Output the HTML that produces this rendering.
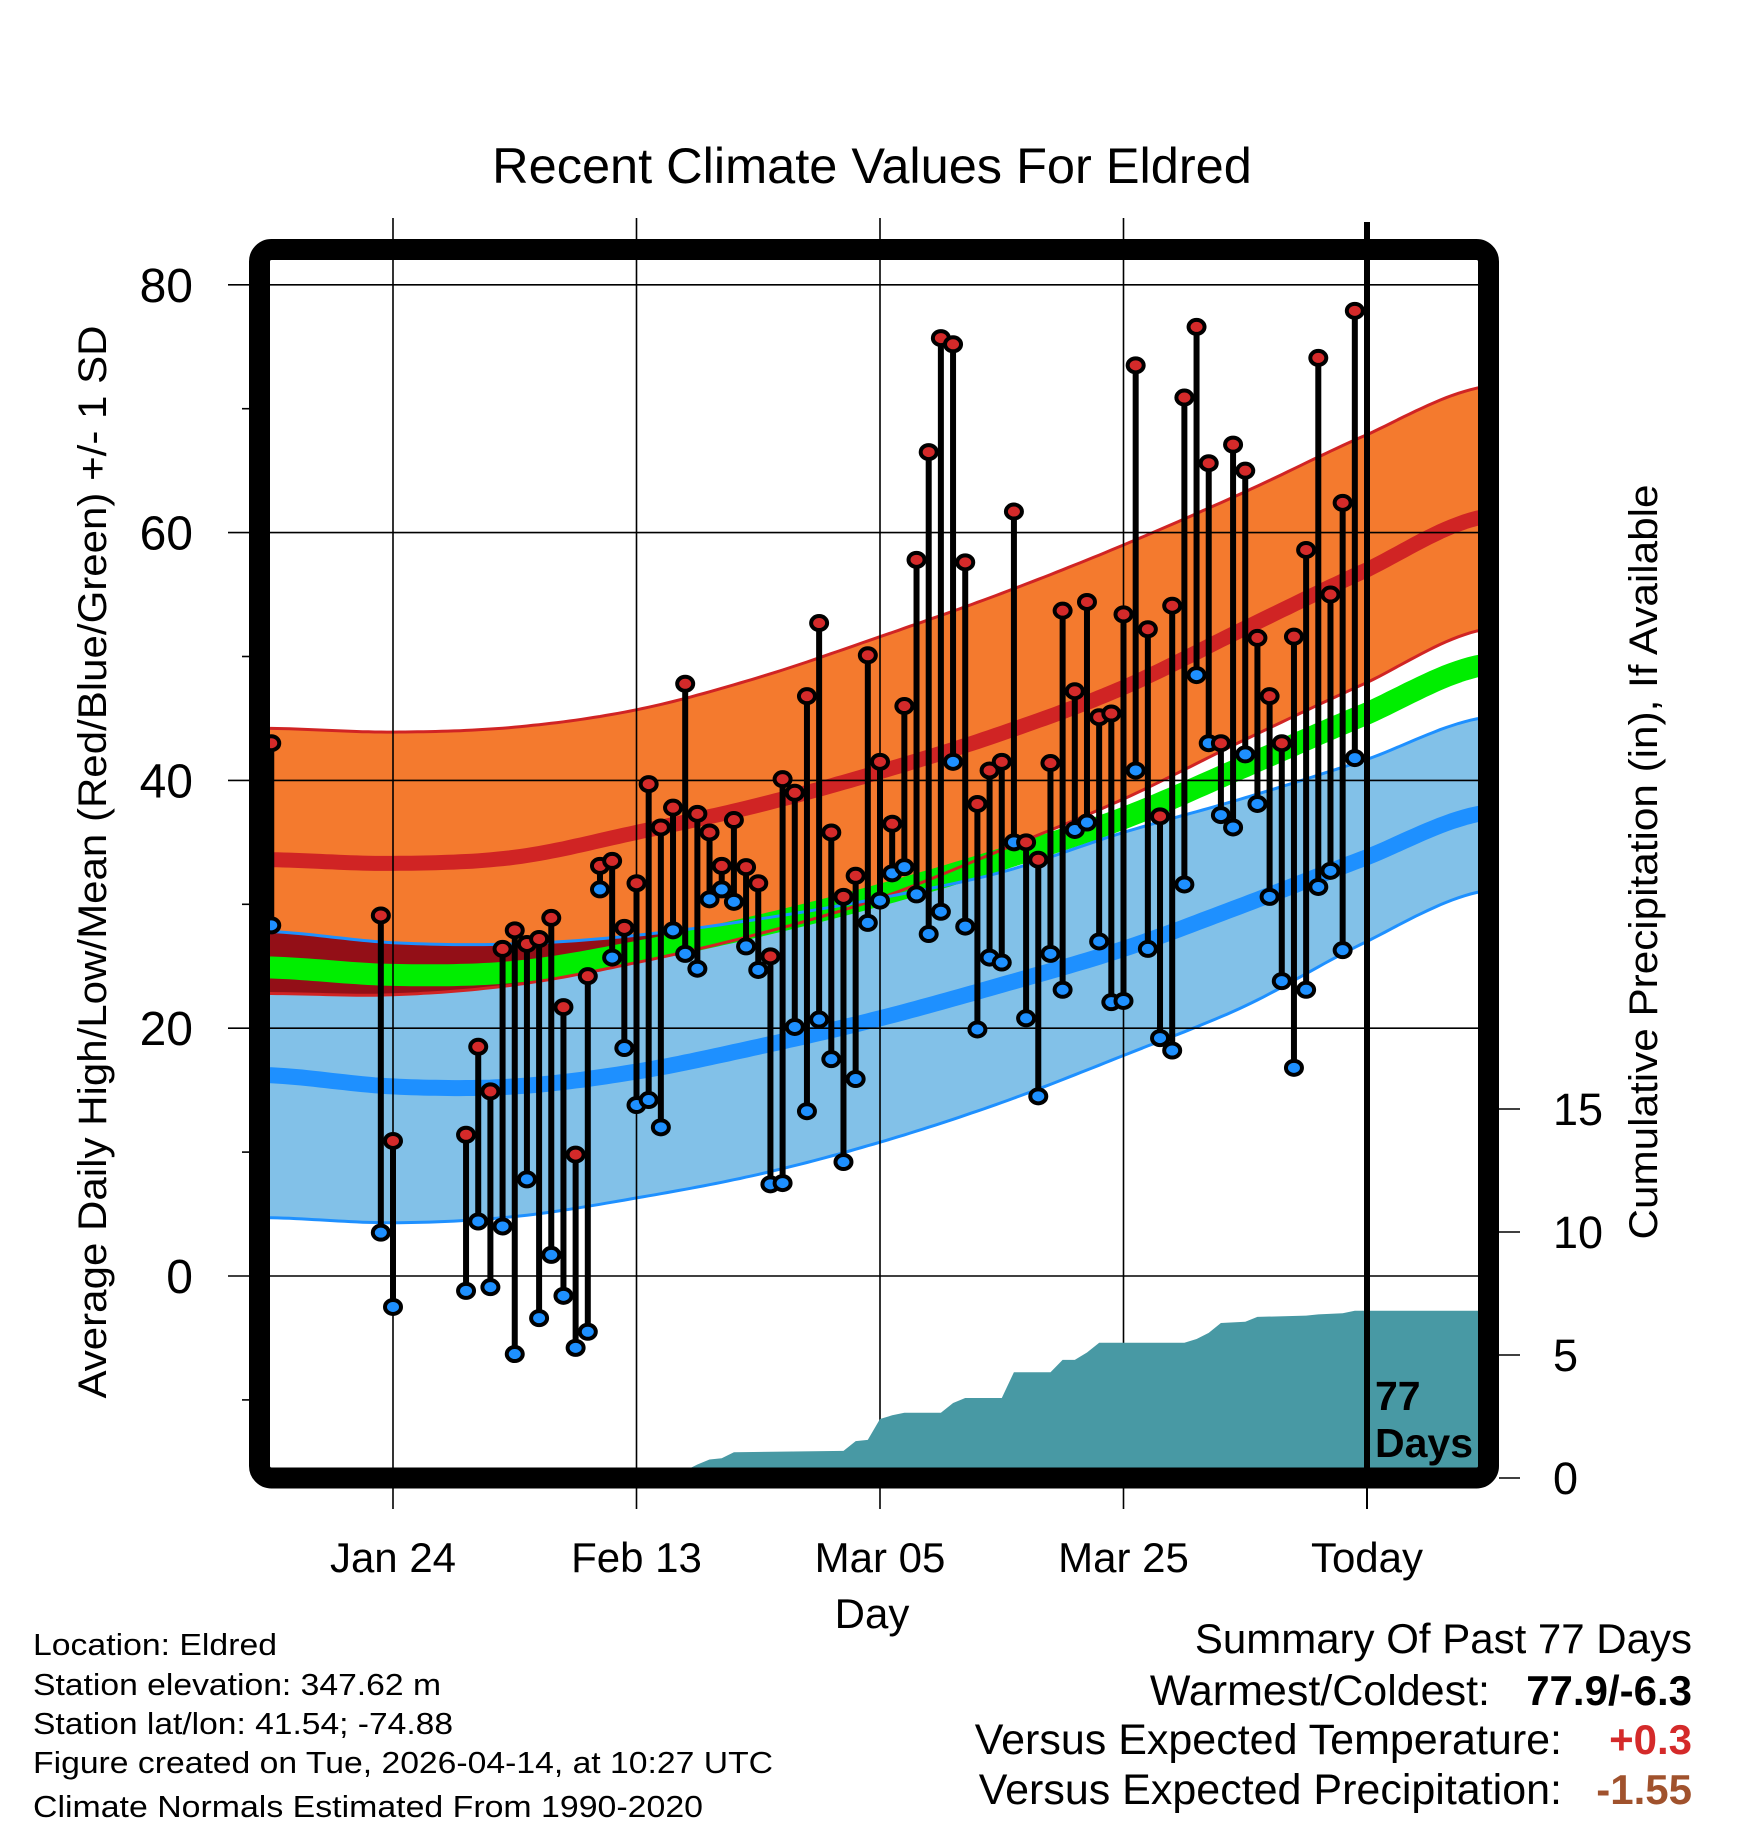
<!DOCTYPE html>
<html><head><meta charset="utf-8"><style>
html,body{margin:0;padding:0;background:#fff;}
svg{display:block;font-family:"Liberation Sans",Arial,sans-serif;}
</style></head><body>
<svg id="chart" xmlns="http://www.w3.org/2000/svg" width="1748" height="1828" viewBox="0 0 1748 1828">
<rect width="1748" height="1828" fill="#fff"/>
<defs><clipPath id="plotclip"><rect x="270" y="260" width="1208" height="1208"/></clipPath></defs>
<text x="872" y="183" font-size="50.5" text-anchor="middle">Recent Climate Values For Eldred</text>
<g id="bands" clip-path="url(#plotclip)"></g>
<g id="grid"></g>
<g id="precip" clip-path="url(#plotclip)"></g>
<g id="stalks"></g>
<g id="axes"></g>
<rect x="259.5" y="249.5" width="1229" height="1228.5" rx="12" fill="none" stroke="#000" stroke-width="21"/>
<text font-size="41" font-weight="bold" x="1375" y="1410">77</text>
<text font-size="41" font-weight="bold" x="1375" y="1457">Days</text>
<text x="872" y="1628" font-size="42" text-anchor="middle">Day</text>
<text transform="translate(106,862) rotate(-90)" font-size="40" text-anchor="middle" textLength="1073" lengthAdjust="spacingAndGlyphs">Average Daily High/Low/Mean (Red/Blue/Green) +/- 1 SD</text>
<text transform="translate(1657,862) rotate(-90)" font-size="40" text-anchor="middle" textLength="755" lengthAdjust="spacingAndGlyphs">Cumulative Precipitation (in), If Available</text>
<g font-size="31">
<text x="33" y="1655" textLength="244" lengthAdjust="spacingAndGlyphs">Location: Eldred</text>
<text x="33" y="1695" textLength="408" lengthAdjust="spacingAndGlyphs">Station elevation: 347.62 m</text>
<text x="33" y="1734" textLength="420" lengthAdjust="spacingAndGlyphs">Station lat/lon: 41.54; -74.88</text>
<text x="33" y="1773" textLength="740" lengthAdjust="spacingAndGlyphs">Figure created on Tue, 2026-04-14, at 10:27 UTC</text>
<text x="33" y="1817" textLength="670" lengthAdjust="spacingAndGlyphs">Climate Normals Estimated From 1990-2020</text>
</g>
<g font-size="42">
<text x="1692" y="1653" text-anchor="end">Summary Of Past 77 Days</text>
<text x="1490" y="1705" text-anchor="end" font-size="43">Warmest/Coldest:</text>
<text x="1692" y="1705" text-anchor="end" font-weight="bold">77.9/-6.3</text>
<text x="1562" y="1754" text-anchor="end" font-size="43">Versus Expected Temperature:</text>
<text x="1692" y="1754" text-anchor="end" font-weight="bold" fill="#d42a2a">+0.3</text>
<text x="1562" y="1804" text-anchor="end" font-size="43">Versus Expected Precipitation:</text>
<text x="1692" y="1804" text-anchor="end" font-weight="bold" fill="#a0522d">-1.55</text>
</g>
</svg>
<script>
// ---- data ----
const obsDays = [-10,-1,0,6,7,8,9,10,11,12,13,14,15,16,17,18,19,20,21,22,23,24,25,26,27,28,29,30,31,32,33,34,35,36,37,38,39,40,41,42,43,44,45,46,47,48,49,50,51,52,53,54,55,56,57,58,59,60,61,62,63,64,65,66,67,68,69,70,71,72,73,74,75,76,77,78,79];
const highs = [43.0,29.1,10.9,11.4,18.5,14.9,26.4,27.9,26.8,27.2,28.9,21.7,9.8,24.2,33.1,33.5,28.1,31.7,39.7,36.2,37.8,47.8,37.3,35.8,33.1,36.8,33.0,31.7,25.8,40.1,39.0,46.8,52.7,35.8,30.6,32.3,50.1,41.5,36.5,46.0,57.8,66.5,75.7,75.2,57.6,38.1,40.8,41.5,61.7,35.0,33.6,41.4,53.7,47.2,54.4,45.1,45.4,53.4,73.5,52.2,37.1,54.1,70.9,76.6,65.6,43.0,67.1,65.0,51.5,46.8,43.0,51.6,58.6,74.1,55.0,62.4,77.9];
const lows = [28.3,3.5,-2.5,-1.2,4.4,-0.9,4.0,-6.3,7.8,-3.4,1.7,-1.6,-5.8,-4.5,31.2,25.7,18.4,13.8,14.2,12.0,27.9,26.0,24.8,30.4,31.2,30.2,26.6,24.7,7.4,7.5,20.1,13.3,20.7,17.5,9.2,15.9,28.5,30.3,32.5,33.0,30.8,27.6,29.4,41.5,28.2,19.9,25.7,25.3,35.0,20.8,14.5,26.0,23.1,36.0,36.6,27.0,22.1,22.2,40.8,26.4,19.2,18.2,31.6,48.5,43.0,37.2,36.2,42.1,38.1,30.6,23.8,16.8,23.1,31.4,32.7,26.3,41.8];
const normDays = [-10,0,10,20,30,40,50,60,70,80,89.2];
const highUpper = [44.2,43.9,44.3,45.7,48.3,51.6,55.1,59.0,63.3,67.9,71.7];
const highMean = [33.6,33.3,33.8,35.8,38.0,40.7,43.8,47.5,52.3,57.0,61.2];
const highLower = [22.8,22.7,23.5,25.3,27.6,30.5,34.4,38.5,43.3,47.9,52.1];
const lowUpper = [27.8,26.9,26.8,27.5,28.8,30.5,32.6,35.8,38.6,41.7,45.0];
const lowMean = [16.2,15.3,15.3,16.5,18.5,20.8,23.5,26.4,30.0,33.8,37.3];
const lowLower = [4.7,4.3,4.8,6.3,8.2,10.8,14.0,17.8,21.8,27.0,31.0];
const precipDays = [23,24,25,26,27,28,37,38,39,40,41,42,45,46,47,50,51,54,55,56,57,58,65,66,67,68,70,71,75,76,78,79];
const precipCum = [0,0.3,0.55,0.75,0.8,1.05,1.1,1.5,1.55,2.4,2.55,2.65,2.65,3.05,3.25,3.25,4.3,4.3,4.8,4.8,5.1,5.5,5.5,5.65,5.9,6.3,6.35,6.55,6.6,6.65,6.7,6.8];
const xTickDays = [0,20,40,60,80];
const xTickLabels = ["Jan 24","Feb 13","Mar 05","Mar 25","Today"];
const yTicks = [0,20,40,60,80];
const yMinor = [-10,10,30,50,70];
const pTicks = [0,5,10,15];
// ---- scales ----
const X = d => 393 + d*12.175;
const Y = t => 1276 - t*12.39;
const P = p => 1478 - p*24.6;
const NS = "http://www.w3.org/2000/svg";
function mk(tag, attrs, parent){const e=document.createElementNS(NS,tag);for(const k in attrs)e.setAttribute(k,attrs[k]);parent.appendChild(e);return e;}
function interp(arr, d){
  const n=normDays.length;
  let i=0; while(i<n-2 && d>normDays[i+1]) i++;
  const p0=arr[Math.max(i-1,0)],p1=arr[i],p2=arr[i+1],p3=arr[Math.min(i+2,n-1)];
  const t=(d-normDays[i])/(normDays[i+1]-normDays[i]);
  return 0.5*((2*p1)+(-p0+p2)*t+(2*p0-5*p1+4*p2-p3)*t*t+(-p0+3*p1-3*p2+p3)*t*t*t);
}
const samples=[]; for(let d=-11; d<=90; d+=0.5) samples.push(d);
const line = arr => samples.map(d=>X(d).toFixed(1)+","+Y(interp(arr,d)).toFixed(1)).join(" ");
const band = (fu,fl) => samples.map(d=>X(d).toFixed(1)+","+Y(fu(d)).toFixed(1)).join(" ")+" "+samples.slice().reverse().map(d=>X(d).toFixed(1)+","+Y(fl(d)).toFixed(1)).join(" ");
const bands=document.getElementById('bands');
let e;
e=mk('polygon',{points:band(d=>interp(highUpper,d),d=>interp(highLower,d)),fill:'#f47a2e'},bands);
 
e=mk('polygon',{points:band(d=>interp(lowUpper,d),d=>interp(lowLower,d)),fill:'#82c1e8'},bands);
 
e=mk('polygon',{points:band(d=>{const t=Math.min(interp(highUpper,d),interp(lowUpper,d)),b=Math.max(interp(highLower,d),interp(lowLower,d));return Math.max(t,b);},d=>Math.max(interp(highLower,d),interp(lowLower,d))),fill:'#930f17'},bands);
 
e=mk('polyline',{points:line(highMean),fill:'none',stroke:'#d02424','stroke-width':15},bands);
 
e=mk('polyline',{points:line(lowMean),fill:'none',stroke:'#1e90ff','stroke-width':16},bands);
 
const meanArr = highMean.map((v,i)=>(v+lowMean[i])/2);
e=mk('polyline',{points:line(meanArr),fill:'none',stroke:'#00ee00','stroke-width':22},bands);
 
e=mk('polyline',{points:line(highUpper),fill:'none',stroke:'#d02424','stroke-width':3},bands);
 
e=mk('polyline',{points:line(highLower),fill:'none',stroke:'#d02424','stroke-width':3},bands);
 
e=mk('polyline',{points:line(lowUpper),fill:'none',stroke:'#1e90ff','stroke-width':3},bands);
 
e=mk('polyline',{points:line(lowLower),fill:'none',stroke:'#1e90ff','stroke-width':3},bands);
 
// grid & axes
const grid=document.getElementById('grid'), axes=document.getElementById('axes');
yTicks.forEach(t=>{
  e=mk('line',{x1:228,x2:1478,y1:Y(t),y2:Y(t),stroke:'#000','stroke-width':1.6},grid);
   
  e=mk('text',{x:193,y:Y(t)+17,'font-size':48,'text-anchor':'end'},axes); e.textContent=t;
   
});
yMinor.forEach(t=>{
  e=mk('line',{x1:242,x2:250,y1:Y(t),y2:Y(t),stroke:'#000','stroke-width':1.6},axes);
   
});
xTickDays.forEach((d,i)=>{
  if(i<4){e=mk('line',{x1:X(d),x2:X(d),y1:218,y2:1509,stroke:'#000','stroke-width':1.6},grid);
   }
  e=mk('text',{x:X(d),y:1572,'font-size':42,'text-anchor':'middle'},axes); e.textContent=xTickLabels[i];
   
});
pTicks.forEach(p=>{
  e=mk('line',{x1:1499,x2:1520,y1:P(p),y2:P(p),stroke:'#000','stroke-width':1.6},axes);
   
  e=mk('text',{x:1553,y:P(p)+16,'font-size':45},axes); e.textContent=p;
   
});
// precip
const pg=document.getElementById('precip');
let pts=X(precipDays[0])+","+P(0)+" ";
precipDays.forEach((d,i)=>{pts+=X(d).toFixed(1)+","+P(precipCum[i]).toFixed(1)+" ";});
pts+="1480,"+P(precipCum[precipCum.length-1]).toFixed(1)+" 1480,1480 "+X(precipDays[0])+",1480";
e=mk('polygon',{points:pts,fill:'#4899a4'},pg);
 
// today line
e=mk('line',{x1:X(80),x2:X(80),y1:222,y2:1478,stroke:'#000','stroke-width':6},grid.parentNode);
 
e=mk('line',{x1:X(80),x2:X(80),y1:1478,y2:1509,stroke:'#000','stroke-width':2},axes);
 
// stalks
const sg=document.getElementById('stalks');
obsDays.forEach((d,i)=>{
  const g=mk('g',{},sg);
   
  e=mk('line',{x1:X(d),x2:X(d),y1:Y(highs[i]),y2:Y(lows[i]),stroke:'#000','stroke-width':6},g);
   
  e=mk('ellipse',{cx:X(d),cy:Y(highs[i]),rx:8,ry:7,fill:'#d42a2a',stroke:'#000','stroke-width':4},g);
   
  e=mk('ellipse',{cx:X(d),cy:Y(lows[i]),rx:8,ry:7,fill:'#1e90ff',stroke:'#000','stroke-width':4},g);
   
});
</script>
</body></html>
